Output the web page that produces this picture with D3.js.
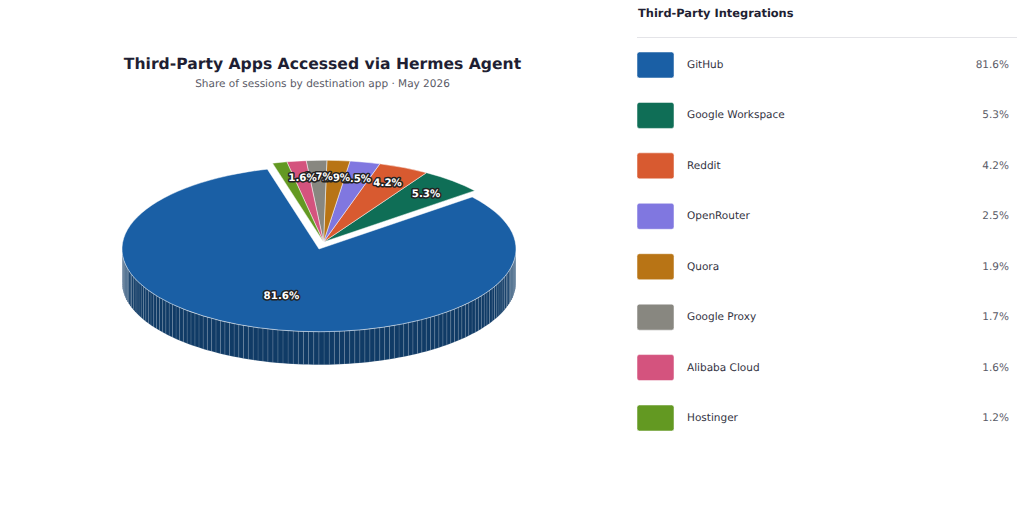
<!DOCTYPE html>
<html><head><meta charset="utf-8">
<script src="https://cdn.jsdelivr.net/npm/d3@7"></script>
<style>html,body{margin:0;padding:0;background:#fff}svg{display:block}text{font-family:"DejaVu Sans",sans-serif;text-rendering:geometricPrecision}</style>
</head><body><div id="c"></div>
<script>
const categories=["GitHub","Google Workspace","Reddit","OpenRouter","Quora","Google Proxy","Alibaba Cloud","Hostinger"];
const values=[81.6,5.3,4.2,2.5,1.9,1.7,1.6,1.2];
const colors=["#1a5fa5","#0f6e56","#d85a30","#8077e0","#b87415","#888780","#d4537e","#639922"];
const W=1024,H=505,cx=319,cy=249,R=197,Rsmall=194.5,squash=0.42,depth=33;
const svg=d3.select("#c").append("svg").attr("width",W).attr("height",H);
const rad=d=>d*Math.PI/180;
const startDeg=344.8;
const pie=d3.pie().sort(null).value(d=>d.v).startAngle(rad(startDeg)).endAngle(rad(startDeg-360));
const arcs=pie(values.map((v,i)=>({v,name:categories[i],c:colors[i],i})));
const arc=d3.arc().innerRadius(0);
const ex={x:4.5,y:-7};
// side wall
const wallG=svg.append("g");
const px=a=>cx+R*Math.sin(a), py=a=>cy-R*squash*Math.cos(a);
const step=rad(1.5);
arcs.forEach(s=>{
  const lo=s.endAngle, hi=s.startAngle, dark=d3.color(s.data.c).darker(1.35);
  const off=s.index===0?{x:0,y:0}:ex;
  d3.range(lo,hi,step).forEach(a=>{
    const b=Math.min(a+step,hi);
    if(Math.cos((a+b)/2)>0.0) return;
    const p=d3.path();
    p.moveTo(px(a)+off.x,py(a)+off.y);p.lineTo(px(b)+off.x,py(b)+off.y);
    p.lineTo(px(b)+off.x,py(b)+off.y+depth);p.lineTo(px(a)+off.x,py(a)+off.y+depth);p.closePath();
    wallG.append("path").attr("d",p.toString()).attr("fill",dark).attr("stroke","rgba(255,255,255,0.16)").attr("stroke-width",0.7);
  });
});
// top faces
const faceG=svg.append("g");
arcs.forEach(s=>{
  const off=s.index===0?{x:0,y:0}:ex;
  faceG.append("path").attr("d",arc.outerRadius(s.index===0?R:Rsmall)(s))
    .attr("transform",`translate(${cx+off.x},${cy+off.y}) scale(1,${squash})`)
    .attr("fill",s.data.c).attr("stroke","rgba(255,255,255,0.6)").attr("stroke-width",0.8)
    .attr("vector-effect","non-scaling-stroke");
});
// labels
const lab=svg.append("g").attr("text-anchor","middle").attr("font-size",10.3).attr("font-weight",700);
arcs.filter(s=>s.data.v>=1.5).forEach(s=>{
  const off=s.index===0?{x:0,y:0}:ex, m=(s.startAngle+s.endAngle)/2, r=s.index===0?114:154;
  lab.append("text").attr("x",cx+off.x+r*Math.sin(m)+(s.index===0?-2.5:0.5)).attr("y",cy+off.y-r*squash*Math.cos(m)+(s.index===0?4.5:3))
    .attr("fill","#fff").attr("stroke","#222").attr("stroke-width",3).attr("paint-order","stroke").attr("stroke-linejoin","round")
    .text(s.data.v.toFixed(1)+"%");
});
// title
svg.append("text").attr("x",322.5).attr("y",68.5).attr("text-anchor","middle").attr("font-size",15.6).attr("font-weight",700).attr("fill","#1f1f33").text("Third-Party Apps Accessed via Hermes Agent");
svg.append("text").attr("x",322.5).attr("y",87).attr("text-anchor","middle").attr("font-size",10.5).attr("fill","#5a5a66").text("Share of sessions by destination app · May 2026");
// legend
svg.append("text").attr("x",638).attr("y",17).attr("font-size",11.4).attr("font-weight",700).attr("fill","#1f1f33").text("Third-Party Integrations");
svg.append("line").attr("x1",637).attr("x2",1017).attr("y1",37.5).attr("y2",37.5).attr("stroke","#e4e4e8");
const y=d3.scalePoint().domain(categories).range([65,418]);
categories.forEach((c,i)=>{
  svg.append("rect").attr("x",637).attr("y",y(c)-13).attr("width",37).attr("height",26).attr("rx",2.5).attr("fill",colors[i]).attr("stroke","rgba(255,255,255,0.5)");
  svg.append("text").attr("x",687).attr("y",y(c)+3).attr("font-size",10.5).attr("fill","#33333f").text(c);
  svg.append("text").attr("x",1009).attr("y",y(c)+3).attr("text-anchor","end").attr("font-size",10.5).attr("fill","#5a5a66").text(values[i].toFixed(1)+"%");
});
</script></body></html>
